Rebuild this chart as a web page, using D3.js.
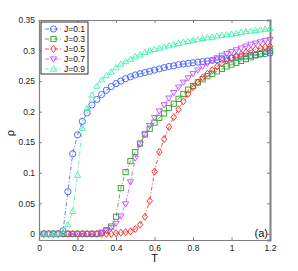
<!DOCTYPE html>
<html><head><meta charset="utf-8">
<script src="https://cdn.jsdelivr.net/npm/d3@7"></script>
<style>body{margin:0;background:#fff}svg{display:block}text{font-family:"Liberation Sans",Arial,sans-serif}</style>
</head><body><div id="chart"></div>
<script>
const T = [0.025,0.05,0.075,0.1,0.125,0.15,0.175,0.2,0.225,0.25,0.275,0.3,0.325,0.35,0.375,0.4,0.425,0.45,0.475,0.5,0.525,0.55,0.575,0.6,0.625,0.65,0.675,0.7,0.725,0.75,0.775,0.8,0.825,0.85,0.875,0.9,0.925,0.95,0.975,1.0,1.025,1.05,1.075,1.1,1.125,1.15,1.175,1.2];
const J01 = [0,0,0,0,0.005,0.069,0.131,0.162,0.184,0.198,0.211,0.220,0.228,0.235,0.241,0.246,0.250,0.254,0.257,0.260,0.262,0.264,0.266,0.268,0.270,0.272,0.274,0.275,0.277,0.278,0.279,0.280,0.281,0.282,0.283,0.284,0.285,0.286,0.287,0.288,0.289,0.290,0.291,0.292,0.293,0.294,0.295,0.296];
const J03 = [0,0,0,0,0,0,0,0,0,0,0,0,0.002,0.006,0.012,0.028,0.075,0.101,0.119,0.134,0.148,0.163,0.172,0.182,0.190,0.197,0.206,0.213,0.221,0.229,0.236,0.242,0.248,0.253,0.258,0.262,0.266,0.270,0.274,0.277,0.280,0.283,0.286,0.289,0.292,0.295,0.298,0.300];
const J05 = [0,0,0,0,0,0,0,0,0,0,0,0,0,0,0,0.001,0.002,0.003,0.004,0.008,0.015,0.028,0.054,0.102,0.134,0.155,0.175,0.191,0.204,0.217,0.229,0.240,0.248,0.256,0.262,0.268,0.274,0.279,0.284,0.288,0.291,0.294,0.297,0.300,0.302,0.304,0.306,0.307];
const J07 = [0,0,0,0,0,0,0,0,0,0,0,0,0.002,0.005,0.010,0.017,0.029,0.049,0.085,0.124,0.147,0.162,0.177,0.190,0.201,0.211,0.222,0.231,0.240,0.248,0.255,0.262,0.268,0.274,0.279,0.284,0.288,0.292,0.295,0.298,0.301,0.304,0.307,0.310,0.312,0.314,0.316,0.318];
const J09 = [0,0,0,0,0.002,0.015,0.037,0.096,0.173,0.205,0.227,0.242,0.252,0.259,0.265,0.272,0.278,0.282,0.286,0.290,0.293,0.297,0.300,0.302,0.304,0.306,0.308,0.310,0.312,0.314,0.315,0.317,0.318,0.320,0.321,0.322,0.324,0.325,0.326,0.327,0.328,0.330,0.331,0.332,0.333,0.334,0.335,0.336];
const seriesNames = ["J=0.1","J=0.3","J=0.5","J=0.7","J=0.9"];
const xTicks = [0,0.2,0.4,0.6,0.8,1,1.2];
const yTicks = [0,0.05,0.1,0.15,0.2,0.25,0.3,0.35];

const colors = ["#3f5cff","#2ea02e","#ff2020","#c04dff","#3df0a8"];
const shapes = ["circle","square","diamond","down","up"];
const data = [J01,J03,J05,J07,J09];

const W=298,H=271, m={l:39,r:28,t:20,b:31};
const svg=d3.select("#chart").append("svg").attr("width",W).attr("height",H);
const x=d3.scaleLinear().domain([0,1.2]).range([m.l,W-m.r]);
const y=d3.scaleLinear().domain([-0.01,0.35]).range([H-m.b,m.t]);

function marker(g,shape,c){
  const s=3.1;
  if(shape==="circle") g.append("circle").attr("r",s).attr("fill","none").attr("stroke",c).attr("stroke-width",0.9);
  else if(shape==="square") g.append("rect").attr("x",-2.6).attr("y",-2.6).attr("width",5.2).attr("height",5.2).attr("fill","none").attr("stroke",c).attr("stroke-width",0.9);
  else if(shape==="diamond") g.append("path").attr("d",`M0,${-s-0.4}L${s-0.4},0L0,${s+0.4}L${-s+0.4},0Z`).attr("fill","none").attr("stroke",c).attr("stroke-width",0.9);
  else if(shape==="down") g.append("path").attr("d",`M${-s},${-s*0.7}L${s},${-s*0.7}L0,${s}Z`).attr("fill","none").attr("stroke",c).attr("stroke-width",0.9);
  else g.append("path").attr("d",`M${-s},${s*0.7}L${s},${s*0.7}L0,${-s}Z`).attr("fill","none").attr("stroke",c).attr("stroke-width",0.9);
}

const gx=svg.append("g").attr("transform",`translate(0,${H-m.b})`).call(d3.axisBottom(x).tickValues(xTicks).tickSize(-3).tickPadding(5).tickFormat(d3.format("")));
const gy=svg.append("g").attr("transform",`translate(${m.l},0)`).call(d3.axisLeft(y).tickValues(yTicks).tickSize(-3).tickPadding(4).tickFormat(d3.format("")));
const gt=svg.append("g").attr("transform",`translate(0,${m.t})`).call(d3.axisTop(x).tickValues(xTicks).tickSize(-3).tickFormat(""));
const gr=svg.append("g").attr("transform",`translate(${W-m.r},0)`).call(d3.axisRight(y).tickValues(yTicks).tickSize(-3).tickFormat(""));
[gx,gy,gt,gr].forEach(g=>{g.select(".domain").attr("stroke","#808080").attr("stroke-width",1.2);g.selectAll(".tick line").attr("stroke","#808080");g.selectAll("text").attr("font-size",8.5).attr("fill","#222");});
gr.select(".domain").attr("stroke-width",2);

const line=d3.line().x((d,i)=>x(T[i])).y(d=>y(d));
data.forEach((vals,k)=>{
  svg.append("path").datum(vals).attr("d",line).attr("fill","none").attr("stroke",colors[k]).attr("stroke-width",0.8).attr("stroke-dasharray","4,2,1,2");
  const g=svg.append("g");
  vals.forEach((v,i)=>{const mg=g.append("g").attr("transform",`translate(${x(T[i])},${y(v)})`);marker(mg,shapes[k],colors[k]);});
});

// legend
const lg=svg.append("g").attr("transform","translate(41,22)");
lg.append("rect").attr("width",47).attr("height",52).attr("fill","#fff").attr("stroke","#000").attr("stroke-width",0.8);
seriesNames.forEach((n,k)=>{
  const yy=7+k*10;
  lg.append("line").attr("x1",4).attr("x2",21).attr("y1",yy).attr("y2",yy).attr("stroke",colors[k]).attr("stroke-width",0.8).attr("stroke-dasharray","4,2,1,2");
  const mg=lg.append("g").attr("transform",`translate(12.5,${yy})`);marker(mg,shapes[k],colors[k]);
  lg.append("text").attr("x",23).attr("y",yy+3).attr("font-size",8.5).attr("fill","#111").text(n);
});

svg.append("text").attr("x",x(0.6)).attr("y",262).attr("text-anchor","middle").attr("font-size",11).attr("fill","#111").text("T");
svg.append("text").attr("transform",`translate(14,${y(0.165)}) rotate(-90)`).attr("text-anchor","middle").attr("font-size",11).attr("fill","#111").text("ρ");
svg.append("text").attr("x",W-m.r-2).attr("y",237).attr("text-anchor","end").attr("font-size",11).attr("fill","#111").text("(a)");
</script></body></html>
